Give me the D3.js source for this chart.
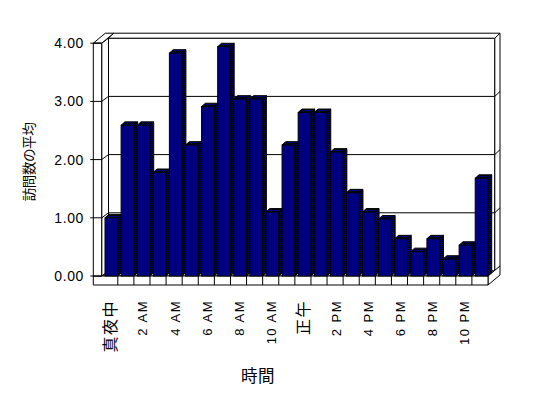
<!DOCTYPE html>
<html>
<head>
<meta charset="utf-8">
<script src="https://cdn.jsdelivr.net/npm/d3@7"></script>
<style>
  body { margin: 0; background: #fff; }
  svg { display: block; }
  text { font-family: "Liberation Sans", "Noto Sans CJK JP", sans-serif; fill: #000; }
</style>
</head>
<body>
<div id="chart"></div>
<script>
// ---- data ----
const hours = ["真夜中", "1 AM", "2 AM", "3 AM", "4 AM", "5 AM", "6 AM", "7 AM", "8 AM", "9 AM", "10 AM", "11 AM",
               "正午", "1 PM", "2 PM", "3 PM", "4 PM", "5 PM", "6 PM", "7 PM", "8 PM", "9 PM", "10 PM", "11 PM"];
const visits = [1.00, 2.59, 2.59, 1.78, 3.83, 2.25, 2.91, 3.94, 3.04, 3.04, 1.10, 2.25,
                2.81, 2.81, 2.13, 1.43, 1.10, 0.98, 0.64, 0.42, 0.64, 0.29, 0.53, 1.68];
const shownLabels = ["真夜中", "2 AM", "4 AM", "6 AM", "8 AM", "10 AM", "正午", "2 PM", "4 PM", "6 PM", "8 PM", "10 PM"];
const yTicks = [0, 1, 2, 3, 4];

const width = 548, height = 398;

// front plane of the 3D box
const xScale = d3.scaleBand().domain(hours).range([101.7, 488]).padding(0);
const yScale = d3.scaleLinear().domain([0, 4]).range([276, 43.2]);

const D = { dx: 6.8, dy: -5 };     // floor depth to back wall
const T = { dx: 5.2, dy: -5 };     // back wall thickness
const leftThick = 8.4;
const floorThick = 9;
const bar = { dx: 3.8, dy: -3.4 };

const xL = xScale.range()[0], xR = xScale.range()[1];
const y0 = yScale(0), yMax = yScale(4);

const poly = pts => "M" + pts.map(p => p.join(",")).join("L") + "Z";

const svg = d3.select("#chart").append("svg")
    .attr("width", width)
    .attr("height", height);

const defs = svg.append("defs");
const pat = defs.append("pattern")
    .attr("id", "dither")
    .attr("width", 2).attr("height", 2)
    .attr("patternUnits", "userSpaceOnUse");
pat.append("rect").attr("width", 2).attr("height", 2).attr("fill", "#000");
pat.append("rect").attr("width", 1).attr("height", 1).attr("fill", "#000080");
pat.append("rect").attr("x", 1).attr("y", 1).attr("width", 1).attr("height", 1).attr("fill", "#000080");

const box = svg.append("g")
    .attr("fill", "#fff")
    .attr("stroke", "#000")
    .attr("stroke-width", 1);

// back wall
box.append("path").attr("d", poly([[xL + D.dx, yMax + D.dy], [xR + D.dx, yMax + D.dy], [xR + D.dx, y0 + D.dy], [xL + D.dx, y0 + D.dy]]));
box.append("path").attr("d", poly([[xL + D.dx, yMax + D.dy], [xR + D.dx, yMax + D.dy], [xR + D.dx + T.dx, yMax + D.dy + T.dy], [xL + D.dx + T.dx, yMax + D.dy + T.dy]]));
box.append("path").attr("d", poly([[xR + D.dx, yMax + D.dy], [xR + D.dx + T.dx, yMax + D.dy + T.dy], [xR + D.dx + T.dx, y0 + D.dy + T.dy], [xR + D.dx, y0 + D.dy]]));

// grid lines on back wall
yTicks.filter(v => v > 0 && v < 4).forEach(v => {
    const y = yScale(v);
    box.append("path").attr("fill", "none")
        .attr("d", `M${xL},${y}L${xL + D.dx},${y + D.dy}L${xR + D.dx},${y + D.dy}L${xR + D.dx + T.dx},${y + D.dy + T.dy}`);
});

// floor
box.append("path").attr("d", poly([[xL, y0], [xR, y0], [xR + D.dx, y0 + D.dy], [xL + D.dx, y0 + D.dy]]));
box.append("path").attr("d", poly([[xR, y0], [xR + D.dx + T.dx, y0 + D.dy + T.dy], [xR + D.dx + T.dx, y0 + D.dy + T.dy + floorThick], [xR, y0 + floorThick]]));
box.append("path").attr("d", poly([[xL - leftThick, y0], [xR, y0], [xR, y0 + floorThick], [xL - leftThick, y0 + floorThick]]));

// category ticks on floor front
hours.slice(1).forEach(h => {
    const x = xScale(h);
    box.append("line").attr("x1", x).attr("x2", x).attr("y1", y0).attr("y2", y0 + floorThick);
});

// left wall
box.append("path").attr("d", poly([[xL, yMax], [xL + D.dx, yMax + D.dy], [xL + D.dx, y0 + D.dy], [xL, y0]]));
box.append("path").attr("d", poly([[xL - leftThick, yMax], [xL, yMax], [xL + D.dx + T.dx, yMax + D.dy + T.dy], [xL - leftThick + D.dx + T.dx, yMax + D.dy + T.dy]]));
box.append("path").attr("d", poly([[xL - leftThick, yMax], [xL, yMax], [xL, y0], [xL - leftThick, y0]]));

// grid on left wall inner face + ticks
yTicks.filter(v => v > 0 && v < 4).forEach(v => {
    const y = yScale(v);
    box.append("line").attr("x1", xL).attr("y1", y).attr("x2", xL + D.dx).attr("y2", y + D.dy);
});
yTicks.forEach(v => {
    const y = yScale(v);
    box.append("line").attr("x1", xL - leftThick - 3).attr("x2", xL).attr("y1", y).attr("y2", y);
});

// bars
const bars = svg.append("g").attr("stroke", "#000").attr("stroke-width", 1);
hours.forEach((h, i) => {
    const bx = xScale(h) + 3.3;
    const bw = xScale.bandwidth() * 0.79;
    const by = yScale(visits[i]);
    const g = bars.append("g");
    g.append("path").attr("fill", "url(#dither)")
        .attr("d", poly([[bx + bw, by], [bx + bw + bar.dx, by + bar.dy], [bx + bw + bar.dx, y0 + bar.dy], [bx + bw, y0]]));
    g.append("path").attr("fill", "url(#dither)")
        .attr("d", poly([[bx, by], [bx + bar.dx, by + bar.dy], [bx + bw + bar.dx, by + bar.dy], [bx + bw, by]]));
    g.append("rect").attr("fill", "#000080")
        .attr("x", bx).attr("y", by).attr("width", bw).attr("height", y0 - by);
});

// y tick labels
svg.append("g").selectAll("text")
    .data(yTicks)
    .join("text")
    .attr("x", 84)
    .attr("y", d => yScale(d))
    .attr("dy", "0.36em")
    .attr("text-anchor", "end")
    .attr("font-size", 14)
    .attr("letter-spacing", 0.6)
    .text(d3.format(".2f"));

// x labels (vertical)
svg.append("g").selectAll("text")
    .data(hours.filter(h => shownLabels.includes(h)))
    .join("text")
    .attr("transform", d => `translate(${xScale(d) + xScale.bandwidth() / 2 + 1},300) rotate(-90)`)
    .attr("text-anchor", "end")
    .attr("dominant-baseline", "central")
    .attr("font-size", d => /[A-Z]/.test(d) ? 13 : 16)
    .attr("letter-spacing", 1.5)
    .text(d => d);

// axis titles
svg.append("text")
    .attr("transform", "translate(29,162) rotate(-90)")
    .attr("text-anchor", "middle")
    .attr("dominant-baseline", "central")
    .attr("font-size", 13.5)
    .attr("letter-spacing", -0.4)
    .text("訪問数の平均");

svg.append("text")
    .attr("x", 258)
    .attr("y", 376)
    .attr("text-anchor", "middle")
    .attr("dominant-baseline", "central")
    .attr("font-size", 16.5)
    .attr("letter-spacing", 0.5)
    .text("時間");
</script>
</body>
</html>
